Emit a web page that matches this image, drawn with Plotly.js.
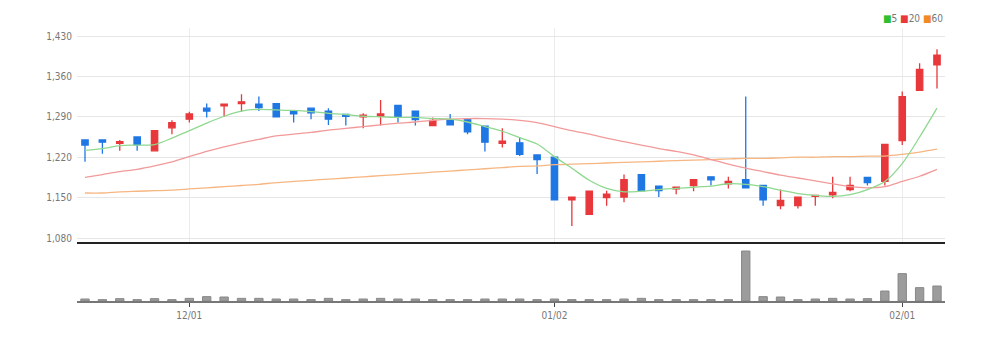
<!DOCTYPE html>
<html><head><meta charset="utf-8">
<script src="https://cdn.plot.ly/plotly-3.0.1.min.js"></script>
<style>html,body{margin:0;padding:0;background:#fff}#chart{width:999px;height:338px}</style>
</head><body><div id="chart"></div>
<script>
const dates = ['2022-11-23','2022-11-24','2022-11-25','2022-11-28','2022-11-29','2022-11-30',
'2022-12-01','2022-12-02','2022-12-05','2022-12-06','2022-12-07','2022-12-08','2022-12-09',
'2022-12-12','2022-12-13','2022-12-14','2022-12-15','2022-12-16','2022-12-19','2022-12-20',
'2022-12-21','2022-12-22','2022-12-23','2022-12-26','2022-12-27','2022-12-28','2022-12-29',
'2023-01-02','2023-01-03','2023-01-04','2023-01-05','2023-01-06','2023-01-09','2023-01-10',
'2023-01-11','2023-01-12','2023-01-13','2023-01-16','2023-01-17','2023-01-18','2023-01-19',
'2023-01-20','2023-01-25','2023-01-26','2023-01-27','2023-01-30','2023-01-31','2023-02-01',
'2023-02-02','2023-02-03'];
const openP  = [1250,1250,1244,1255,1231,1271,1286,1305,1309,1313,1312,1313,1300,1305,1300,1294,1290,1291,1310,1300,1275,1285,1285,1274,1244,1245,1224,1220,1146,1121,1150,1151,1190,1170,1165,1171,1186,1174,1181,1171,1136,1136,1152,1155,1164,1185,1178,1249,1336,1380];
const highP  = [1250,1250,1250,1255,1267,1284,1299,1313,1312,1329,1325,1313,1300,1305,1305,1294,1296,1319,1310,1300,1289,1295,1285,1274,1270,1255,1224,1220,1151,1161,1162,1190,1190,1170,1168,1181,1186,1186,1325,1171,1164,1151,1154,1186,1186,1185,1242,1334,1383,1407];
const lowP   = [1212,1226,1231,1231,1231,1260,1280,1289,1290,1299,1300,1289,1280,1286,1276,1275,1270,1275,1280,1275,1275,1275,1260,1230,1237,1222,1191,1146,1101,1121,1136,1142,1162,1151,1156,1161,1171,1166,1166,1136,1130,1131,1136,1149,1161,1171,1171,1241,1336,1339];
const closeP = [1241,1246,1247,1242,1266,1280,1295,1300,1312,1316,1306,1290,1295,1297,1286,1291,1293,1295,1290,1285,1284,1276,1264,1246,1248,1225,1216,1146,1151,1161,1156,1181,1162,1162,1168,1181,1181,1178,1167,1146,1145,1151,1154,1159,1171,1176,1242,1325,1372,1397];
const ma5  = [1232,1235,1240,1241,1242,1253,1266,1279,1291,1300,1303,1302,1301,1299,1296,1294,1291,1290,1289,1289,1287,1286,1281,1273,1265,1254,1243,1221,1201,1180,1166,1160,1161,1164,1166,1168,1170,1174,1173,1169,1163,1157,1154,1152,1155,1164,1178,1209,1255,1305];
const ma20 = [1185,1190,1195,1199,1205,1212,1221,1230,1238,1245,1251,1257,1260,1263,1267,1270,1273,1276,1279,1281,1284,1286,1287,1287,1286,1284,1280,1273,1266,1260,1253,1247,1241,1235,1230,1224,1216,1208,1201,1195,1189,1184,1179,1174,1169,1167,1169,1178,1187,1199];
const ma60 = [1158,1158,1160,1161,1162,1163,1165,1167,1169,1171,1173,1176,1178,1180,1182,1184,1186,1188,1190,1192,1194,1196,1198,1200,1202,1204,1205,1207,1208,1209,1210,1211,1212,1213,1214,1215,1216,1217,1218,1218,1219,1220,1220,1221,1221,1222,1222,1225,1229,1234];
const volume = [4,2.7,4.7,2.7,4.7,2.7,5.3,8.7,8,5.3,5.3,4,4,2.7,5.3,2.7,4,5.3,4,4,2.7,2.7,2.7,4,4,4,2.7,4,2.7,2.7,2.7,4,5.3,2.7,2.7,2.7,2.7,2.7,100,8.7,8,2.7,4,5.3,4,4.7,20,54.7,26.7,30];
const tickVals = ['2022-12-01','2023-01-02','2023-02-01'];
const tickText = ['12/01','01/02','02/01'];
const priceTicks = [1080,1150,1220,1290,1360,1430];
const legendNames = ['5','20','60'];

const RED='#e8383b', BLUE='#1f77e4';
const FONT='"Liberation Sans Narrow", "Arial Narrow", "DejaVu Sans Condensed", sans-serif';

const traces = [
  {type:'scatter',mode:'lines',x:dates,y:ma60,xaxis:'x',yaxis:'y',line:{color:'#f6b682',width:1.3,shape:'spline',smoothing:0.8},hoverinfo:'skip',name:legendNames[2]},
  {type:'scatter',mode:'lines',x:dates,y:ma20,xaxis:'x',yaxis:'y',line:{color:'#f29a9a',width:1.3,shape:'spline',smoothing:0.8},hoverinfo:'skip',name:legendNames[1]},
  {type:'scatter',mode:'lines',x:dates,y:ma5,xaxis:'x',yaxis:'y',line:{color:'#8fd88f',width:1.3,shape:'spline',smoothing:0.8},hoverinfo:'skip',name:legendNames[0]},
  {type:'candlestick',x:dates,open:openP,high:highP,low:lowP,close:closeP,xaxis:'x',yaxis:'y',
   increasing:{line:{color:RED,width:1.3},fillcolor:RED},
   decreasing:{line:{color:BLUE,width:1.3},fillcolor:BLUE},whiskerwidth:0},
  {type:'bar',x:dates,y:volume,xaxis:'x2',yaxis:'y2',marker:{color:'#9c9c9c',line:{color:'#888',width:1}},width:0.48}
];

const plotH = 338-28-37;
const priceBottom = (301-242)/plotH;
const layout = {
  width:999,height:338,
  margin:{l:77,r:54,t:28,b:37},
  paper_bgcolor:'#fff',plot_bgcolor:'#fff',
  showlegend:false,
  boxgap:0.48,
  font:{family:FONT,size:10,color:'#666'},
  xaxis:{type:'category',anchor:'y',range:[-0.46,49.46],showgrid:true,gridcolor:'#ececec',gridwidth:1,
    tickmode:'array',tickvals:tickVals,ticktext:tickText,showticklabels:false,ticks:'',
    showline:true,linecolor:'#222',linewidth:2,rangeslider:{visible:false},zeroline:false,fixedrange:true},
  xaxis2:{type:'category',anchor:'y2',matches:'x',range:[-0.46,49.46],showgrid:false,
    tickmode:'array',tickvals:tickVals,ticktext:tickText,ticks:'outside',ticklen:4,tickcolor:'#444',
    showline:true,linecolor:'#777',linewidth:2,tickfont:{family:FONT,size:10,color:'#777'},zeroline:false},
  yaxis:{domain:[priceBottom,1],range:[1073.1,1443.9],tickmode:'array',tickvals:priceTicks,
    tickformat:',d',showgrid:true,gridcolor:'#e6e6e6',gridwidth:1,zeroline:false,showline:false,
    ticks:'',tickfont:{family:FONT,size:10,color:'#777'},ticklabelstandoff:4},
  yaxis2:{domain:[0,(301-247)/plotH],range:[0,108],showgrid:false,showticklabels:false,zeroline:false,showline:false,ticks:''},
  annotations:[{xref:'paper',yref:'paper',x:1.0,y:1.0,xanchor:'right',yanchor:'bottom',yshift:2,xshift:0,showarrow:false,
    font:{family:FONT,size:10,color:'#777'},
    text:'<span style="color:#2fbf2f">■</span>'+legendNames[0]+' <span style="color:#e8383b">■</span>'+legendNames[1]+' <span style="color:#f08a24">■</span>'+legendNames[2]}]
};
Plotly.newPlot('chart',traces,layout,{staticPlot:true,displayModeBar:false});
</script></body></html>
